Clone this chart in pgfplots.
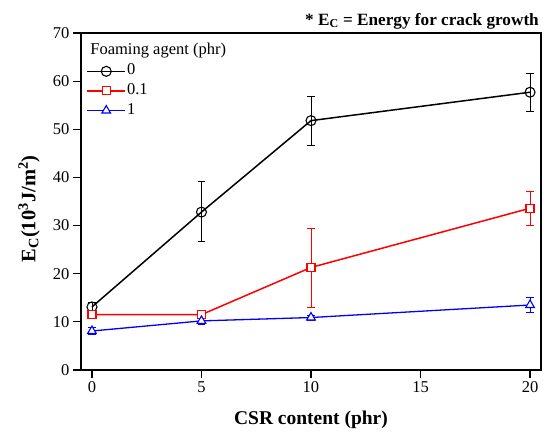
\documentclass[border=0pt]{standalone}
\usepackage{fontspec}
\setmainfont{Liberation Serif}
\usepackage{pgfplots}
\pgfplotsset{compat=1.18}
\begin{document}
\begin{tikzpicture}
\path[use as bounding box] (-81pt,-64pt) rectangle (469pt,370pt);
\begin{axis}[
  at={(0,0)}, anchor=south west,
  scale only axis, width=460pt, height=337pt,
  xmin=-0.5, xmax=20.5, ymin=0, ymax=70,
  xtick={0,5,10,15,20}, ytick={0,10,...,70},
  xtick pos=left, ytick pos=left,
  tick align=outside, major tick length=8pt,
  axis line style={line width=1.6pt},
  tick style={line width=1.2pt, black},
  /pgf/number format/assume math mode=true,
  tick label style={font=\fontsize{16.5}{19}\selectfont},
  xlabel={\textbf{CSR content (phr)}},
  ylabel={\textbf{E\textsubscript{C}(10\textsuperscript{3}J/m\textsuperscript{2})}},
  xlabel style={font=\fontsize{19.5}{22}\selectfont, at={(axis description cs:0.5,-0.163)}, anchor=base},
  ylabel style={font=\fontsize{20.5}{23}\selectfont, at={(axis description cs:-0.113,0.478)}, anchor=center},
  legend style={draw=none, fill=none, at={(axis description cs:0.005,0.918)}, anchor=north west,
    font=\fontsize{16.5}{19}\selectfont, row sep=2.6pt,
    nodes={inner sep=1pt, text height=11pt, text depth=4pt}},
  legend cell align=left,
  legend image code/.code={\draw[mark repeat=2,mark phase=2] plot coordinates {(0pt,0pt) (19pt,0pt) (38pt,0pt)};},
  clip=false,
]
\addplot[black, line width=1.5pt, mark=o, mark size=5pt, mark options={fill=white, line width=1.1pt},
  error bars/.cd, y dir=both, y explicit,
  error bar style={line width=0.8pt},
  error mark options={rotate=90, mark size=3.6pt, line width=0.8pt}]
  table[x=x, y=y, y error plus=ep, y error minus=em] {
x y ep em
0 13.1 0.9 0.9
5 32.8 6.3 6.1
10 51.8 5.1 5.2
20 57.7 3.9 3.9
};
\addlegendentry{0}
\addplot[red, line width=1.5pt, mark=square*, mark size=4pt, mark options={fill=white, line width=1.1pt},
  error bars/.cd, y dir=both, y explicit,
  error bar style={line width=0.8pt},
  error mark options={rotate=90, mark size=3.6pt, line width=0.8pt}]
  table[x=x, y=y, y error plus=ep, y error minus=em] {
x y ep em
0 11.5 0.3 0.3
5 11.5 0.3 0.3
10 21.3 8.1 8.3
20 33.6 3.5 3.5
};
\addlegendentry{0.1}
\addplot[blue, line width=1.3pt, mark=triangle*, mark size=5pt, mark options={fill=white, line width=1.1pt},
  error bars/.cd, y dir=both, y explicit,
  error bar style={line width=0.8pt},
  error mark options={rotate=90, mark size=3.6pt, line width=0.8pt}]
  table[x=x, y=y, y error plus=ep, y error minus=em] {
x y ep em
0 8.1 0.8 0.8
5 10.2 0.8 0.8
10 10.9 0.5 0.5
20 13.5 1.5 1.6
};
\addlegendentry{1}
\node[anchor=base west, font=\fontsize{16.5}{19}\selectfont, inner sep=0pt] at (rel axis cs:0.02,0.935) {Foaming agent (phr)};
\node[anchor=base east, font=\fontsize{17.2}{20}\bfseries\selectfont, inner sep=0pt] at ([xshift=-2pt,yshift=8pt]rel axis cs:1,1) {* E\textsubscript{C} = Energy for crack growth};
\end{axis}
\end{tikzpicture}
\end{document}
